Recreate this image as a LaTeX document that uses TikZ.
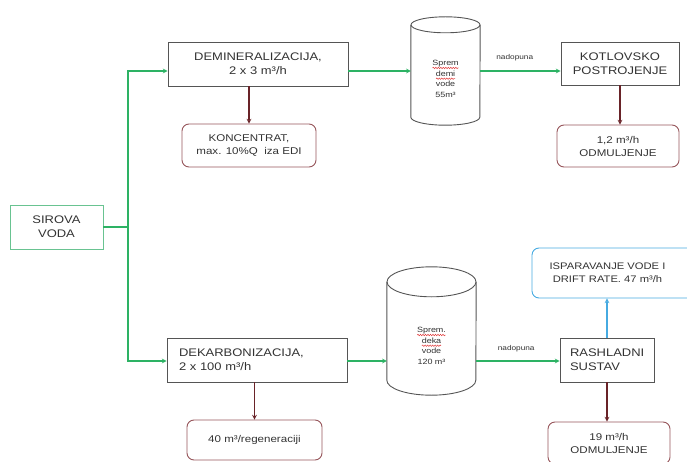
\documentclass[tikz,border=0pt]{standalone}
\usepackage{fontspec}
\setmainfont{Liberation Sans}[FakeStretch=1.18]
\usetikzlibrary{calc,decorations.pathmorphing}

\definecolor{flowgreen}{RGB}{45,178,100}
\definecolor{rawgreen}{RGB}{105,195,145}
\definecolor{drainred}{RGB}{105,35,40}
\definecolor{wastered}{RGB}{150,85,90}
\definecolor{steamblue}{RGB}{70,170,225}
\definecolor{boxgray}{RGB}{85,85,85}
\definecolor{textgray}{RGB}{50,50,50}
\definecolor{spellred}{RGB}{225,60,60}

\newcommand{\drawtank}[3]{%
\draw[boxgray,line width=0.9pt] ($(#1.north west)+(0,#3)$) -- ($(#1.south west)+(0,#3)$)
  arc[start angle=180,end angle=360,x radius=#2pt,y radius=#3pt] -- ($(#1.north east)+(0,#3)$);
\draw[boxgray,line width=0.9pt] ($(#1.north)+(0,#3)$) ellipse[x radius=#2pt,y radius=#3pt];
}
\newcommand{\spellmark}[4]{%
\draw[spellred,line width=0.5pt,decorate,decoration={snake,segment length=2.5pt,amplitude=0.7pt}] ($(#1)+(#2,#3)$) -- ++(#4,0);
}

\begin{document}
\begin{tikzpicture}[x=1pt,y=1pt,
  proc/.style={draw=boxgray,line width=0.9pt,text=textgray,inner sep=0pt,align=center,font=\fontsize{11}{14}\selectfont},
  waste/.style={draw=wastered,line width=0.9pt,rounded corners=7pt,text=textgray,inner sep=0pt,align=center,font=\fontsize{9.8}{13}\selectfont},
  tankbody/.style={inner sep=0pt,text=textgray,align=center,font=\fontsize{7.6}{10.7}\selectfont},
  flow/.style={-stealth,flowgreen,line width=1.1pt},
  drain/.style={-stealth,drainred,line width=1.1pt},
  vapour/.style={-stealth,steamblue,line width=1.1pt},
  tag/.style={text=textgray,inner sep=0pt,font=\fontsize{7}{8}\selectfont}]

\useasboundingbox (0,0) rectangle (687,461);

% source
\node[proc,draw=rawgreen,minimum width=93pt,minimum height=44pt] (sirova) at (56.5,234) {SIROVA\\VODA};
\coordinate (split) at (128,234);
\coordinate (toprow) at (0,390);
\coordinate (botrow) at (0,100);

% demi line
\node[proc,minimum width=180pt,minimum height=44pt] (demin) at (258,397) {DEMINERALIZACIJA,\\2 x 3 m³/h};
\node[waste,minimum width=134pt,minimum height=43pt] (koncentrat) at (249,315.5) {KONCENTRAT,\\max. 10\%Q~ iza EDI};
\node[tankbody,minimum width=69pt,minimum height=92pt] (tank1) at (445.5,382) {Sprem\\demi\\vode\\55m³};
\drawtank{tank1}{34.5}{8}
\spellmark{tank1}{-13}{11}{26}
\spellmark{tank1}{-9.5}{0.3}{19}
\node[proc,minimum width=118pt,minimum height=43pt] (kotlovsko) at (620,397.5) {KOTLOVSKO\\POSTROJENJE};
\node[waste,minimum width=122pt,minimum height=42pt] (odmulj1) at (618,315) {1,2 m³/h\\ODMULJENJE};

% deka line
\node[proc,minimum width=180pt,minimum height=44pt,inner xsep=12pt,text width=156pt,align=left] (dekarb) at (257,101) {DEKARBONIZACIJA,\\2 x 100 m³/h};
\node[waste,minimum width=135pt,minimum height=40pt] (regen) at (254.5,21) {40 m³/regeneraciji};
\node[tankbody,minimum width=89pt,minimum height=98pt] (tank2) at (431.5,115) {Sprem.\\deka\\vode\\120 m³};
\drawtank{tank2}{44.5}{15}
\spellmark{tank2}{-14.3}{11}{28.5}
\spellmark{tank2}{-9.6}{0.3}{19.2}
\node[proc,minimum width=94pt,minimum height=44pt,inner xsep=10pt,text width=74pt,align=left] (rashladni) at (607,101) {RASHLADNI\\SUSTAV};
\node[waste,draw=steamblue,minimum width=168pt,minimum height=50pt,font=\fontsize{9.5}{13}\selectfont] (isparavanje) at (616,188) {\parbox{140pt}{\centering ISPARAVANJE VODE I\\DRIFT RATE. 47 m³/h}\hspace{17pt}};
\node[waste,minimum width=122pt,minimum height=42pt] (odmulj2) at (609,18) {19 m³/h\\ODMULJENJE};

\draw[flow] (sirova.east) -- (split) |- (demin.west |- toprow);
\draw[flow] (split) |- (dekarb.west |- botrow);
\draw[flow] (demin.east |- toprow) -- (tank1.west |- toprow);
\draw[flow] (tank1.east |- toprow) -- node[tag,above=9pt,pos=0.43] (nadopuna1) {nadopuna} (kotlovsko.west |- toprow);
\draw[flow] (dekarb.east |- botrow) -- (tank2.west |- botrow);
\draw[flow] (tank2.east |- botrow) -- node[tag,above=9pt,pos=0.48] (nadopuna2) {nadopuna} (rashladni.west |- botrow);

\draw[drain] (koncentrat.north |- demin.south) -- (koncentrat.north);
\draw[drain] (kotlovsko.south) -- (kotlovsko.south |- odmulj1.north);
\draw[drain] (regen.north |- dekarb.south) -- (regen.north);
\draw[drain] (rashladni.south) -- (rashladni.south |- odmulj2.north);
\draw[vapour] (rashladni.north) -- (rashladni.north |- isparavanje.south);

\end{tikzpicture}
\end{document}
